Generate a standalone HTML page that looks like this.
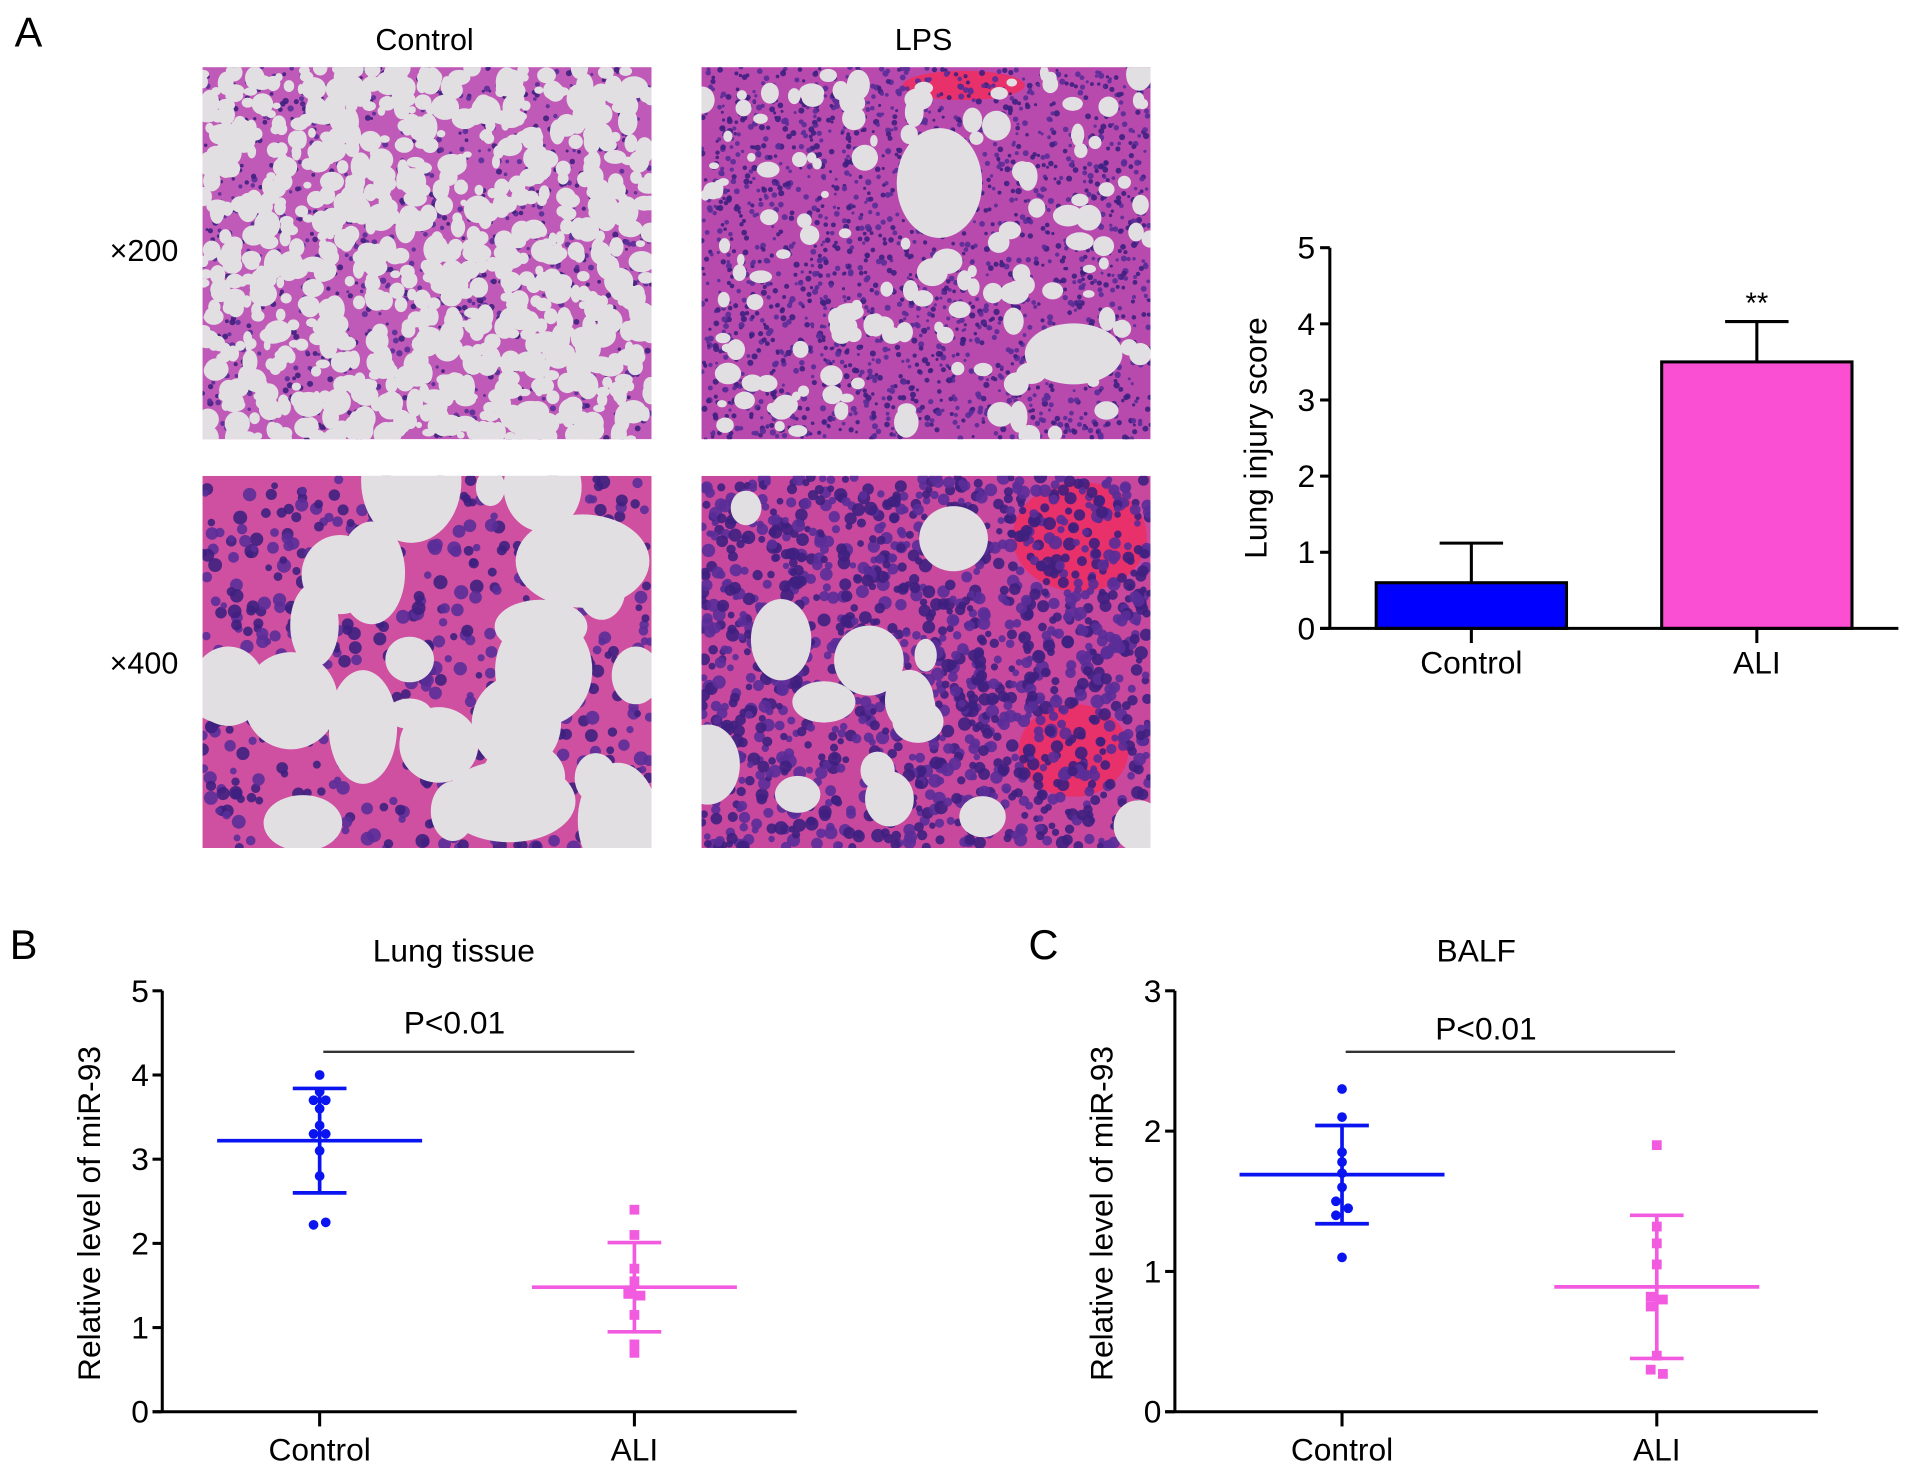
<!DOCTYPE html>
<html><head><meta charset="utf-8"><style>
html,body{margin:0;padding:0;background:#fff;}
svg{display:block;font-family:"Liberation Sans",Arial,sans-serif;}
</style></head><body>
<svg id="fig" width="1913" height="1474" viewBox="0 0 1568 1208" preserveAspectRatio="none" xmlns="http://www.w3.org/2000/svg">
<rect width="1568" height="1208" fill="#fff"/>
<g id="histo"></g>
<text x="12" y="38" font-size="34">A</text>
<text x="348" y="41" font-size="25" text-anchor="middle">Control</text>
<text x="757" y="41" font-size="25" text-anchor="middle">LPS</text>
<text x="118" y="214" font-size="25" text-anchor="middle">×200</text>
<text x="118" y="552" font-size="25" text-anchor="middle">×400</text>
<text x="8" y="786" font-size="34">B</text>
<text x="843" y="786" font-size="34">C</text>
<g id="chartA"></g>
<g id="chartB"></g>
<g id="chartC"></g>
</svg>
<script>
// ---- Chart data ----
const barCategories = ["Control", "ALI"];
const barValues = [0.6, 3.5];
const barErrors = [0.52, 0.53];
const barTicks = [0, 1, 2, 3, 4, 5];

const tissueCategories = ["Control", "ALI"];
const tissueControl = [4.0, 3.8, 3.7, 3.7, 3.6, 3.4, 3.3, 3.3, 3.1, 2.8, 2.22, 2.25];
const tissueALI = [2.4, 2.1, 1.7, 1.55, 1.42, 1.38, 1.40, 1.15, 0.8, 0.7];
const tissueMean = [3.22, 1.48];
const tissueSD = [0.62, 0.53];
const tissueTicks = [0, 1, 2, 3, 4, 5];

const balfCategories = ["Control", "ALI"];
const balfControl = [2.3, 2.1, 1.85, 1.78, 1.7, 1.6, 1.5, 1.45, 1.4, 1.1];
const balfALI = [1.9, 1.32, 1.2, 1.05, 0.82, 0.8, 0.75, 0.4, 0.3, 0.27];
const balfMean = [1.69, 0.89];
const balfSD = [0.35, 0.51];
const balfTicks = [0, 1, 2, 3];

const NS = "http://www.w3.org/2000/svg";
function mk(parent, tag, attrs, text) {
  const e = document.createElementNS(NS, tag);
  for (const k in attrs) e.setAttribute(k, attrs[k]);
  if (text !== undefined) e.textContent = text;
  parent.appendChild(e);
  return e;
}

// ---- Histology textures ----
let seed = 12345;
function rnd() { seed = (seed * 16807) % 2147483647; return (seed - 1) / 2147483646; }
function histo(x, y, w, h, opt) {
  const g = document.getElementById('histo');
  const p = mk(g, 'g', {});
  
  
  const cid = 'clip' + opt.name;
  const cp = mk(p, 'clipPath', {id: cid});
  mk(cp, 'rect', {x: x, y: y, width: w, height: h});
  const inner = mk(p, 'g', {'clip-path': 'url(#' + cid + ')'});
  mk(inner, 'rect', {x: x, y: y, width: w, height: h, fill: opt.tissue});
  (opt.blood || []).forEach(b => mk(inner, 'ellipse', {cx: b[0], cy: b[1], rx: b[2], ry: b[3], fill: '#e8306a'}));
  for (let i = 0; i < opt.nuc; i++) {
    mk(inner, 'circle', {cx: x + rnd() * w, cy: y + rnd() * h, r: opt.nucR * (0.6 + rnd() * 0.7), fill: rnd() < 0.5 ? '#3e2080' : '#5a2e98', opacity: 0.9});
  }
  for (let i = 0; i < opt.holes; i++) {
    const r = opt.holeR * (0.5 + rnd());
    mk(inner, 'ellipse', {cx: x + rnd() * w, cy: y + rnd() * h, rx: r * (0.7 + rnd() * 0.6), ry: r * (0.7 + rnd() * 0.6), fill: '#e2dfe2'});
  }
  (opt.big || []).forEach(b => mk(inner, 'ellipse', {cx: b[0], cy: b[1], rx: b[2], ry: b[3], fill: '#e2dfe2'}));
}
histo(166, 55, 368, 305, {name: 'control-x200-image', tissue: '#c05ab8', holes: 950, holeR: 6.5, nuc: 1200, nucR: 2});
histo(575, 55, 368, 305, {name: 'lps-x200-image', tissue: '#b84aae', holes: 160, holeR: 7, nuc: 2200, nucR: 2,
  big: [[770, 150, 35, 45], [880, 290, 40, 25]], blood: [[790, 70, 50, 12]]});
histo(166, 390, 368, 305, {name: 'control-x400-image', tissue: '#cf4fa0', holes: 28, holeR: 30, nuc: 600, nucR: 4.5});
histo(575, 390, 368, 305, {name: 'lps-x400-image', tissue: '#c8489e', holes: 16, holeR: 22, nuc: 1500, nucR: 4.3,
  blood: [[885, 440, 55, 45], [880, 615, 45, 38]]});

// ---- Chart A: bar chart ----
(function () {
  const g = document.getElementById('chartA');
  const x0 = 1090, y0 = 515, yTop = 203, yMax = 5;
  const Y = v => y0 - v / yMax * (y0 - yTop);
  const X = i => 1206 + i * 234;
  const bw = 156;
  const colors = ['#0000ff', '#fa4ed3'];
  barValues.forEach((v, i) => {
    const r = mk(g, 'rect', {x: X(i) - bw / 2, y: Y(v), width: bw, height: y0 - Y(v), fill: colors[i], stroke: '#000', 'stroke-width': 2.5});
    
    
    const e = mk(g, 'path', {d: `M${X(i)} ${Y(v)}V${Y(v + barErrors[i])}M${X(i) - 26} ${Y(v + barErrors[i])}H${X(i) + 26}`, stroke: '#000', 'stroke-width': 2.5, fill: 'none'});
    
    
    const t = mk(g, 'text', {x: X(i), y: y0 + 37, 'font-size': 26, 'text-anchor': 'middle'}, barCategories[i]);
    
    
    mk(g, 'line', {x1: X(i), x2: X(i), y1: y0, y2: y0 + 12, stroke: '#000', 'stroke-width': 2.5});
  });
  const ax = mk(g, 'path', {d: `M${x0} ${yTop}V${y0}M${x0 - 8} ${y0}H1556`, stroke: '#000', 'stroke-width': 2.5, fill: 'none'});
  
  
  barTicks.forEach(v => {
    mk(g, 'line', {x1: x0 - 8, x2: x0, y1: Y(v), y2: Y(v), stroke: '#000', 'stroke-width': 2.5});
    const t = mk(g, 'text', {x: x0 - 12, y: Y(v) + 9, 'font-size': 26, 'text-anchor': 'end'}, v);
    
    
  });
  const st = mk(g, 'text', {x: X(1), y: Y(barValues[1] + barErrors[1]) - 7, 'font-size': 24, 'text-anchor': 'middle'}, '**');
  
  
  const yt = mk(g, 'text', {x: 0, y: 0, 'font-size': 26, 'text-anchor': 'middle', transform: `translate(1038 ${Y(2.5)}) rotate(-90)`}, 'Lung injury score');
  
  
})();

// ---- Scatter charts ----
function scatter(id, cfg) {
  const g = document.getElementById(id);
  const {x0, y0, yTop, yMax, xs, xEnd, ticks, cats, groups, means, sds, title, titleX, sigY, sigX1, sigX2, pY} = cfg;
  const Y = v => y0 - v / yMax * (y0 - yTop);
  const colors = ['#0a14f0', '#f25ae0'];
  groups.forEach((arr, gi) => {
    const cx = xs[gi];
    const m = means[gi], s = sds[gi];
    const ml = mk(g, 'line', {x1: cx - 84, x2: cx + 84, y1: Y(m), y2: Y(m), stroke: colors[gi], 'stroke-width': 3});
    
    
    const sd = mk(g, 'path', {d: `M${cx} ${Y(m + s)}V${Y(m - s)}M${cx - 22} ${Y(m + s)}H${cx + 22}M${cx - 22} ${Y(m - s)}H${cx + 22}`, stroke: colors[gi], 'stroke-width': 3, fill: 'none'});
    
    
    arr.forEach((v, i) => {
      const near = arr.some((w, j) => j !== i && Math.abs(w - v) < 0.06);
      const dx = near ? (i % 2 ? 5 : -5) : 0;
      let p;
      if (gi === 0) p = mk(g, 'circle', {cx: cx + dx, cy: Y(v), r: 4, fill: colors[gi]});
      else p = mk(g, 'rect', {x: cx + dx - 4, y: Y(v) - 4, width: 8, height: 8, fill: colors[gi]});
      
      
    });
    mk(g, 'line', {x1: cx, x2: cx, y1: y0, y2: y0 + 12, stroke: '#000', 'stroke-width': 2.5});
    const t = mk(g, 'text', {x: cx, y: y0 + 40, 'font-size': 26, 'text-anchor': 'middle'}, cats[gi]);
    
    
  });
  const ax = mk(g, 'path', {d: `M${x0} ${yTop}V${y0}M${x0 - 8} ${y0}H${xEnd}`, stroke: '#000', 'stroke-width': 2.5, fill: 'none'});
  
  
  ticks.forEach(v => {
    mk(g, 'line', {x1: x0 - 8, x2: x0, y1: Y(v), y2: Y(v), stroke: '#000', 'stroke-width': 2.5});
    const t = mk(g, 'text', {x: x0 - 11, y: Y(v) + 9, 'font-size': 26, 'text-anchor': 'end'}, v);
    
    
  });
  const sl = mk(g, 'line', {x1: sigX1, x2: sigX2, y1: sigY, y2: sigY, stroke: '#333', 'stroke-width': 2});
  
  
  const pt = mk(g, 'text', {x: (sigX1 + sigX2) / 2 - 20, y: pY, 'font-size': 26, 'text-anchor': 'middle'}, 'P<0.01');
  
  
  const tt = mk(g, 'text', {x: titleX, y: 788, 'font-size': 26, 'text-anchor': 'middle'}, title);
  
  
  const yt = mk(g, 'text', {x: 0, y: 0, 'font-size': 26, 'text-anchor': 'middle', transform: `translate(${x0 - 51} ${(y0 + yTop) / 2 + 10}) rotate(-90)`}, 'Relative level of miR-93');
  
  
}
scatter('chartB', {x0: 133, y0: 1157, yTop: 812, yMax: 5, xs: [262, 520], xEnd: 653, ticks: tissueTicks, cats: tissueCategories,
  groups: [tissueControl, tissueALI], means: tissueMean, sds: tissueSD, title: 'Lung tissue', titleX: 372, sigY: 862, sigX1: 265, sigX2: 520, pY: 847});
scatter('chartC', {x0: 963, y0: 1157, yTop: 812, yMax: 3, xs: [1100, 1358], xEnd: 1490, ticks: balfTicks, cats: balfCategories,
  groups: [balfControl, balfALI], means: balfMean, sds: balfSD, title: 'BALF', titleX: 1210, sigY: 862, sigX1: 1103, sigX2: 1373, pY: 852});
</script>
</body></html>
